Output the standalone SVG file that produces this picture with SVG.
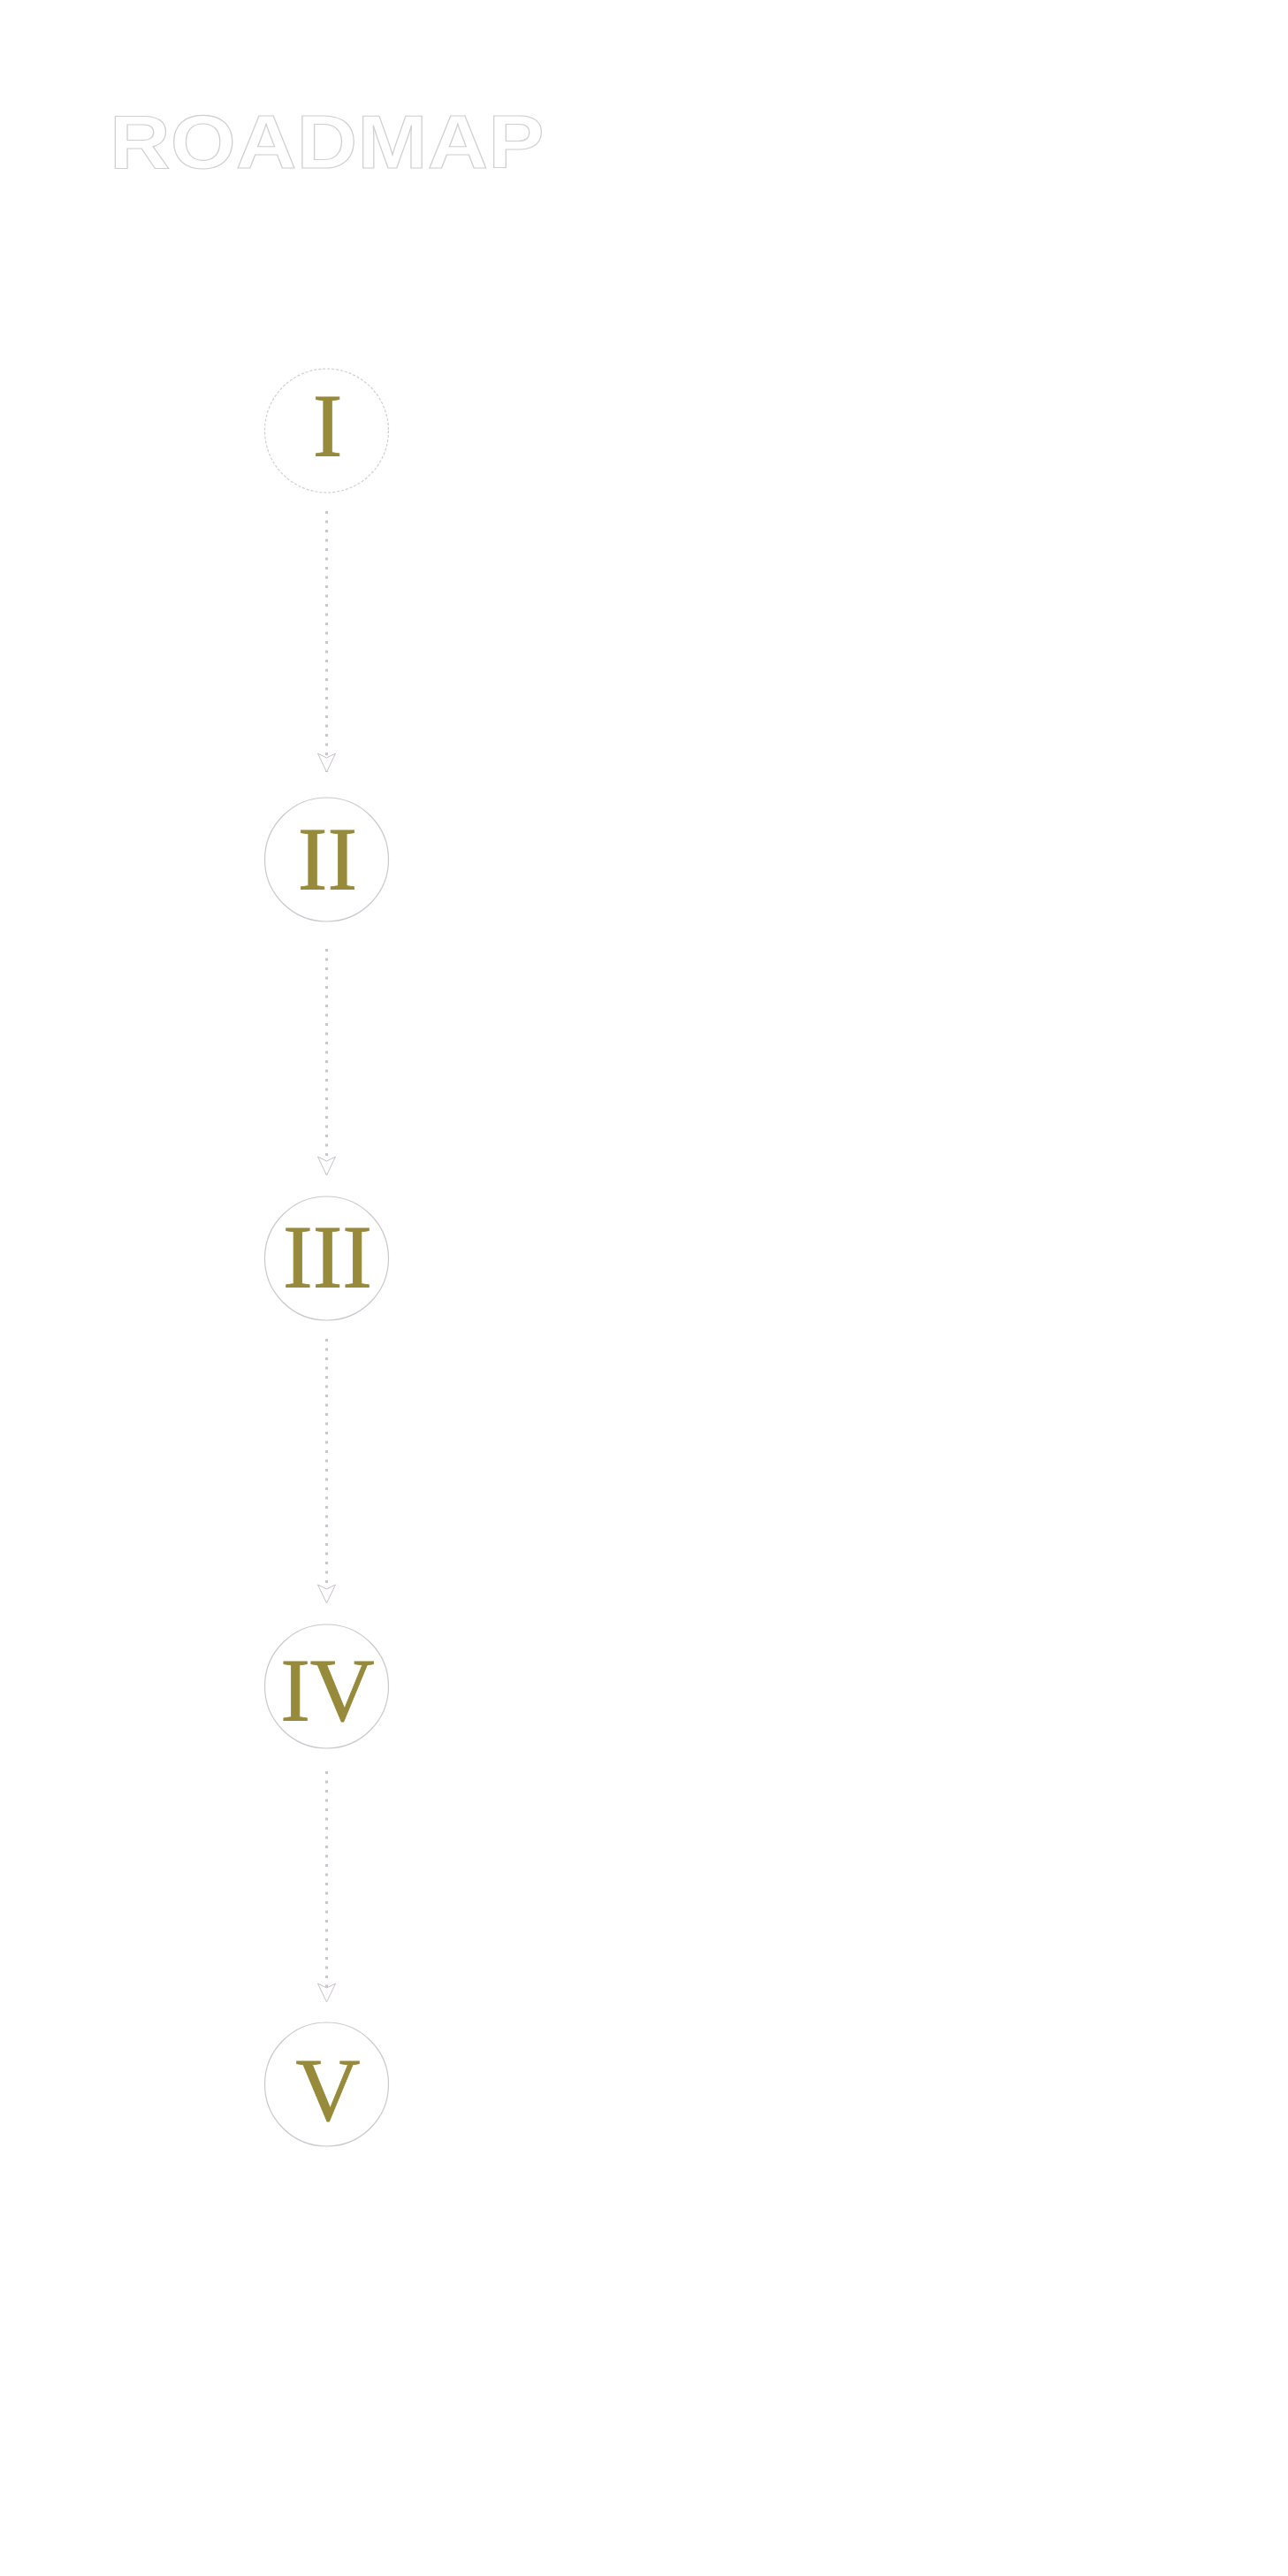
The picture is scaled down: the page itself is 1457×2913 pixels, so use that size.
<svg xmlns="http://www.w3.org/2000/svg" width="1457" height="2913" viewBox="0 0 1457 2913">
  <defs>
    <style>
      .title { font-family: "Liberation Sans", Arial, sans-serif; font-weight: bold; font-size: 85px; fill: #ffffff; stroke: #cfcfcf; stroke-width: 1.1; }
      .ring { fill: #ffffff; stroke: #cdc6cf; stroke-width: 1.2; }
      .ring-dashed { fill: #ffffff; stroke: #cfcfcf; stroke-width: 1.2; stroke-dasharray: 3 2; }
      .num { font-family: "Liberation Serif", "Times New Roman", serif; font-size: 101px; fill: #978a3b; stroke: #978a3b; stroke-width: 0.8; text-anchor: middle; }
      .conn { stroke: #cbc5cd; stroke-width: 3; fill: none; stroke-dasharray: 3 7.5; marker-end: url(#arrow); }
    </style>
    <marker id="arrow" markerUnits="userSpaceOnUse" viewBox="-24 -12 26 24" markerWidth="26" markerHeight="24" refX="0" refY="0" orient="auto">
      <path d="M-21,-10 L0,0 L-21,10 L-16,0 Z" fill="#ffffff" stroke="#c8c1ca" stroke-width="1"/>
    </marker>
  </defs>
  <rect width="1457" height="2913" fill="#ffffff"/>
  <text class="title" transform="translate(124,190) scale(1.12,1)" x="0" y="0">ROADMAP</text>

  <g id="connectors">
    <line class="conn" x1="369.5" y1="578" x2="369.5" y2="873"/>
    <line class="conn" x1="369.5" y1="1073" x2="369.5" y2="1329"/>
    <line class="conn" x1="369.5" y1="1514" x2="369.5" y2="1813"/>
    <line class="conn" x1="369.5" y1="2003" x2="369.5" y2="2264"/>
  </g>

  <g id="node-1">
    <circle class="ring-dashed" cx="369.5" cy="487" r="70"/>
    <text class="num" x="370.5" y="516">I</text>
  </g>
  <g id="node-2">
    <circle class="ring" cx="369.5" cy="972" r="70"/>
    <text class="num" x="370.5" y="1006">II</text>
  </g>
  <g id="node-3">
    <circle class="ring" cx="369.5" cy="1423" r="70"/>
    <text class="num" x="370.5" y="1456">III</text>
  </g>
  <g id="node-4">
    <circle class="ring" cx="369.5" cy="1907" r="70"/>
    <text class="num" x="370.5" y="1946">IV</text>
  </g>
  <g id="node-5">
    <circle class="ring" cx="369.5" cy="2357" r="70"/>
    <text class="num" x="371" y="2398">V</text>
  </g>
</svg>
